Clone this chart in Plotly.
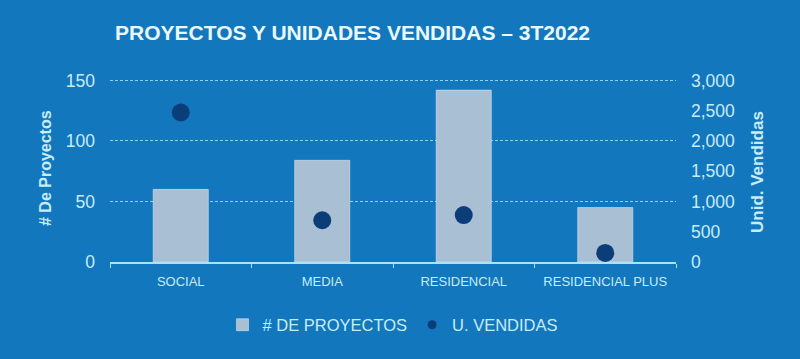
import plotly.graph_objects as go

categories = ["SOCIAL", "MEDIA", "RESIDENCIAL", "RESIDENCIAL PLUS"]
proyectos = [60, 84, 142, 45]
unidades = [2470, 690, 775, 150]
left_ticks = [0, 50, 100, 150]
right_ticks = [0, 500, 1000, 1500, 2000, 2500, 3000]

BG = "#1277bd"
TXT = "#c8ecf7"
BAR = "#a9bfd4"
DOT = "#0b3d78"
GRID = "#8fd0ee"
FONT = "Liberation Sans, Arial, sans-serif"

fig = go.Figure()
fig.add_trace(go.Bar(x=categories, y=proyectos, marker_color=BAR, name="# DE PROYECTOS",
                     showlegend=False, yaxis="y"))
fig.add_trace(go.Scatter(x=categories, y=unidades, mode="markers", name="U. VENDIDAS",
                         marker=dict(color=DOT, size=18), showlegend=False, yaxis="y2"))
# legend entries
fig.add_trace(go.Bar(x=[None], y=[None], marker_color=BAR, name="# DE PROYECTOS"))
fig.add_trace(go.Scatter(x=[None], y=[None], mode="markers", name="U. VENDIDAS",
                         marker=dict(color=DOT, size=9), yaxis="y2"))

fig.update_layout(
    width=800, height=359,
    paper_bgcolor=BG, plot_bgcolor=BG,
    margin=dict(l=110, r=124, t=78, b=97),
    bargap=0.61,
    title=dict(text="<b>PROYECTOS Y UNIDADES VENDIDAS – 3T2022</b>", x=115/800, xanchor="left",
               y=1-33/359, yanchor="middle",
               font=dict(family=FONT, size=21, color="#eaf8fd")),
    xaxis=dict(type="category", showgrid=False, showline=True, linecolor="#a8e4f5", linewidth=2,
               ticks="outside", tickson="boundaries", ticklen=4, tickcolor="#a8e4f5",
               ticklabelstandoff=6,
               tickfont=dict(family=FONT, size=13, color=TXT),
               range=[-0.5, 3.5]),
    yaxis=dict(range=[0, 152], tickvals=left_ticks, showgrid=True, gridcolor=GRID,
               griddash="3px,2px", gridwidth=1, zeroline=False, showline=False,
               ticklabelstandoff=14, tickfont=dict(family=FONT, size=17.5, color=TXT)),
    yaxis2=dict(range=[0, 3040], tickvals=right_ticks, overlaying="y", side="right",
                showgrid=False, zeroline=False, tickformat=",d", ticklabelstandoff=14,
                tickfont=dict(family=FONT, size=17.5, color=TXT)),
    legend=dict(orientation="h", x=0.5, xanchor="center", y=-(325-262)/184, yanchor="middle",
                font=dict(family=FONT, size=16.5, color=TXT), bgcolor="rgba(0,0,0,0)",
                itemwidth=30, tracegroupgap=0),
    showlegend=True,
)
pw = 800 - 110 - 124
fig.add_annotation(text="<b># De Proyectos</b>", textangle=-90, x=(45 - 110) / pw, xref="paper",
                   y=(262 - 168) / 184, yref="paper", showarrow=False, xanchor="center",
                   font=dict(family=FONT, size=16, color=TXT))
fig.add_annotation(text="<b>Unid. Vendidas</b>", textangle=-90, x=(757 - 110) / pw, xref="paper",
                   y=(262 - 172) / 184, yref="paper", showarrow=False, xanchor="center",
                   font=dict(family=FONT, size=17, color=TXT))

fig.write_html("out.html", config={"displayModeBar": False},
               post_script="document.body.style.margin='0';document.body.style.overflow='hidden';")
